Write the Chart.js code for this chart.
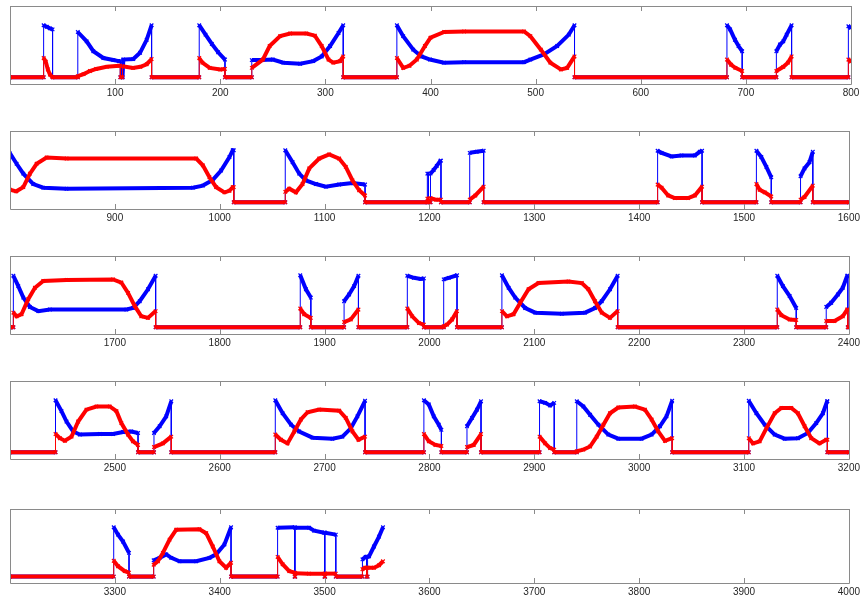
<!DOCTYPE html>
<html>
<head>
<meta charset="utf-8">
<script src="https://cdn.jsdelivr.net/npm/chart.js@4/dist/chart.umd.min.js"></script>
<style>
body{margin:0;background:#fff;width:863px;height:597px;position:relative;overflow:hidden}
canvas{position:absolute;left:0}
</style>
</head>
<body>
<canvas id="p0"></canvas>
<canvas id="p1"></canvas>
<canvas id="p2"></canvas>
<canvas id="p3"></canvas>
<canvas id="p4"></canvas>
<script>
/* DATA: one window of 800 samples per row, [x, y] */
let rowStarts=[0,800,1600,2400,3200]
let rowSpan=800
let tickStep=100

let red1=[[0,0],[32,0],[32,0.37],[34,0.3],[36,0.15],[38,0.05],[40.5,0],
[64.5,0],[64.5,0.02],[70,0.06],[76,0.12],[82,0.16],[92,0.2],[104,0.22],[105,0.22],[105,0],[107,0],[107,0.21],[117,0.18],[124,0.2],[130,0.25],[134.7,0.35],[134.7,0],
[180,0],[180,0.37],[183,0.28],[190,0.18],[200,0.15],[204.5,0.16],[204.5,0],
[230,0],[230,0.18],[240.5,0.34],[247,0.6],[257,0.79],[266.5,0.84],[282,0.84],[290,0.8],[296.5,0.6],[303,0.34],[307.5,0.28],[314,0.31],[317,0.4],[317,0],
[368,0],[368,0.37],[374,0.18],[380,0.22],[387,0.34],[394.7,0.6],[400,0.76],[413,0.87],[432,0.88],[489,0.88],[495,0.79],[505,0.53],[514,0.28],[524,0.15],[530,0.18],[537,0.4],[537,0],
[682,0],[682,0.34],[686,0.24],[690,0.18],[696.5,0.12],[696.5,0],
[729,0],[729,0.12],[735.6,0.2],[740,0.28],[743.5,0.4],[743.5,0],
[797.5,0],[797.5,0.34],[800,0.3]]
let blue1=[[0,0],[32,0],[32,1.0],[35,0.97],[38,0.94],[40.5,0.92],[40.5,0],
[64.5,0],[64.5,0.87],[72.9,0.69],[79.3,0.5],[88.8,0.37],[98.3,0.33],[103.4,0.31],[105,0.31],[105,0],[107,0],[107.8,0.34],[117.3,0.35],[123.7,0.47],[130,0.72],[134.7,1.0],[134.7,0],
[180,0],[180,1.0],[186,0.82],[192,0.64],[198,0.48],[204.5,0.34],[204.5,0],
[230,0],[230,0.33],[240,0.33],[250,0.34],[260,0.28],[276,0.26],[288.5,0.31],[296.5,0.4],[304.5,0.6],[312.5,0.85],[317,1.0],[317,0],
[368,0],[368,1.0],[374,0.79],[383.6,0.53],[391.5,0.4],[399.5,0.34],[412.7,0.28],[432,0.29],[489,0.29],[495,0.34],[507.8,0.44],[520.5,0.6],[531.6,0.82],[537,1.0],[537,0],
[682,0],[682,1.0],[685,0.92],[689.6,0.72],[693,0.6],[696.5,0.5],[696.5,0],
[729,0],[729,0.5],[732.5,0.63],[735.6,0.69],[738.8,0.82],[743.5,1.0],[743.5,0],
[797.5,0],[797.5,0.98],[800,0.95]]

let red2=[[800,0.24],[806,0.21],[812.7,0.29],[819,0.55],[825.4,0.74],[834.9,0.86],[854,0.84],[977.6,0.84],[983.9,0.71],[990.2,0.48],[996.6,0.29],[1004.5,0.19],[1009.3,0.22],[1012.4,0.29],[1013.4,0.29],[1013.4,0],
[1062.5,0],[1062.5,0.2],[1066.3,0.26],[1072.7,0.19],[1079,0.35],[1085.4,0.65],[1094.9,0.84],[1104.4,0.92],[1113.9,0.84],[1120.2,0.68],[1126.6,0.42],[1133,0.23],[1138.6,0.13],[1138.6,0],
[1198,0],[1198,0.07],[1199,0.07],[1199,0],[1201,0],[1201,0.08],[1206,0.05],[1211,0.05],[1211,0],
[1238.4,0],[1238.4,0.05],[1243.8,0.13],[1251.7,0.3],[1251.7,0],
[1417.6,0],[1417.6,0.34],[1421.4,0.28],[1427.7,0.13],[1434,0.08],[1446.7,0.08],[1453.1,0.13],[1460,0.3],[1460,0],
[1511.8,0],[1511.8,0.35],[1514.9,0.24],[1519.7,0.19],[1526,0.11],[1526,0],
[1553.9,0],[1553.9,0.05],[1557.7,0.1],[1565.6,0.32],[1565.6,0],
[1600,0]]
let blue2=[[800,0.94],[806.3,0.74],[812.7,0.55],[822.2,0.35],[831.7,0.28],[853.9,0.26],[974.4,0.28],[983.9,0.32],[993.4,0.43],[1001.3,0.61],[1009.3,0.87],[1012.4,1.0],[1013.4,1.0],[1013.4,0],
[1062.5,0],[1062.5,1.0],[1069.5,0.77],[1075.8,0.55],[1082.2,0.42],[1091.7,0.35],[1101.2,0.3],[1113.9,0.34],[1126.6,0.37],[1138.6,0.34],[1138.6,0],
[1198,0],[1198,0.55],[1199,0.55],[1199,0],[1201,0],[1201,0.55],[1204,0.62],[1207,0.7],[1210.5,0.8],[1211,0.8],[1211,0],
[1238.4,0],[1238.4,0.95],[1245,0.97],[1251.7,0.99],[1251.7,0],
[1417.6,0],[1417.6,0.99],[1421.4,0.95],[1430.9,0.88],[1440.4,0.9],[1453.1,0.9],[1457.8,0.97],[1460,0.99],[1460,0],
[1511.8,0],[1511.8,0.99],[1516.5,0.87],[1521.3,0.68],[1526,0.48],[1526,0],
[1553.9,0],[1553.9,0.5],[1557.7,0.65],[1562.4,0.77],[1565.6,0.97],[1565.6,0],
[1600,0]]

let red3=[[1600,0],[1603.2,0],[1603.2,0.28],[1606.3,0.21],[1611,0.25],[1617.4,0.54],[1623.8,0.76],[1631.7,0.89],[1653.9,0.91],[1698.3,0.92],[1706.2,0.86],[1712.6,0.66],[1718.9,0.41],[1725.2,0.21],[1731.6,0.18],[1738.9,0.31],[1738.9,0],
[1876.8,0],[1876.8,0.36],[1880.6,0.25],[1886.9,0.18],[1886.9,0],
[1918.6,0],[1918.6,0.1],[1925,0.15],[1932.3,0.34],[1932.3,0],
[1978.9,0],[1978.9,0.36],[1983.6,0.21],[1990,0.08],[1994.7,0.05],[1994.7,0],
[2013.6,0],[2013.6,0.02],[2016.8,0.05],[2021.6,0.15],[2026.3,0.31],[2026.3,0],
[2069.1,0],[2069.1,0.31],[2073.9,0.21],[2080.2,0.25],[2086.6,0.47],[2094.5,0.73],[2104,0.85],[2132.6,0.88],[2145.3,0.85],[2151.6,0.73],[2157.9,0.5],[2164.3,0.28],[2172.2,0.18],[2179.5,0.31],[2179.5,0],
[2331.7,0],[2331.7,0.34],[2335.6,0.23],[2343.5,0.15],[2349.8,0.14],[2349.8,0],
[2378.4,0],[2378.4,0.12],[2386.3,0.12],[2394.2,0.21],[2398.4,0.34],[2399,0.34],[2399,0],[2400,0]]
let blue3=[[1600,0],[1603.2,0],[1603.2,0.99],[1607.9,0.79],[1612.7,0.57],[1619,0.39],[1627,0.31],[1638,0.34],[1711,0.34],[1717.3,0.37],[1723.7,0.5],[1731.6,0.73],[1738.9,0.99],[1738.9,0],
[1876.8,0],[1876.8,1.0],[1882.2,0.73],[1886.9,0.57],[1886.9,0],
[1918.6,0],[1918.6,0.5],[1923.4,0.63],[1928.2,0.79],[1932.3,0.99],[1932.3,0],
[1978.9,0],[1978.9,0.99],[1985.2,0.95],[1991.6,0.93],[1994.7,0.94],[1994.7,0],
[2013.6,0],[2013.6,0.92],[2018.4,0.95],[2026.3,1.0],[2026.3,0],
[2069.1,0],[2069.1,1.0],[2075.5,0.76],[2081.8,0.57],[2091.3,0.37],[2100.9,0.28],[2126.2,0.26],[2148.4,0.28],[2157.9,0.37],[2164.3,0.5],[2172.2,0.73],[2179.5,0.99],[2179.5,0],
[2331.7,0],[2331.7,0.99],[2337.1,0.79],[2343.5,0.6],[2349.8,0.37],[2349.8,0],
[2378.4,0],[2378.4,0.39],[2383.1,0.47],[2389.5,0.63],[2394.2,0.76],[2398.4,0.99],[2399,0.99],[2399,0],[2400,0]]

let red4=[[2400,0],[2443.4,0],[2443.4,0.35],[2447.6,0.27],[2452.3,0.22],[2458.7,0.3],[2465,0.59],[2472.9,0.82],[2482.4,0.88],[2495.1,0.88],[2501.5,0.79],[2506.2,0.56],[2512.6,0.34],[2517.3,0.21],[2522.1,0.14],[2522.1,0],
[2537.3,0],[2537.3,0.1],[2545.8,0.17],[2553.8,0.3],[2553.8,0],
[2653,0],[2653,0.34],[2658.4,0.24],[2664.7,0.17],[2671.1,0.4],[2677.4,0.63],[2683.8,0.77],[2694.9,0.82],[2714,0.8],[2720.2,0.66],[2726.6,0.4],[2732.3,0.24],[2738.6,0.3],[2738.6,0],
[2794.7,0],[2794.7,0.35],[2799.4,0.21],[2805.7,0.14],[2811.4,0.12],[2811.4,0],
[2835.8,0],[2835.8,0.1],[2842.2,0.14],[2849.2,0.35],[2849.2,0],
[2905,0],[2905,0.3],[2910.4,0.17],[2915.1,0.08],[2919,0.05],[2919,0],
[2940.5,0],[2940.5,0.02],[2946.8,0.05],[2953.2,0.11],[2959.5,0.3],[2965.9,0.53],[2972.2,0.75],[2980.1,0.86],[2996,0.88],[3005.5,0.82],[3011.9,0.63],[3018.2,0.4],[3024.6,0.22],[3031.5,0.27],[3031.5,0],
[3104.5,0],[3104.5,0.27],[3108.6,0.17],[3114.9,0.21],[3121.3,0.46],[3129.2,0.75],[3135.6,0.85],[3145.1,0.85],[3151.4,0.75],[3157.8,0.5],[3164.1,0.27],[3172,0.17],[3178.4,0.24],[3179.5,0.24],[3179.5,0],
[3200,0]]
let blue4=[[2400,0],[2443.4,0],[2443.4,1.0],[2449.1,0.79],[2453.9,0.59],[2460.2,0.4],[2466.6,0.34],[2485.6,0.35],[2498.3,0.35],[2507.8,0.39],[2515.7,0.4],[2522.1,0.37],[2522.1,0],
[2537.3,0],[2537.3,0.37],[2542.7,0.5],[2549,0.69],[2553.8,0.98],[2553.8,0],
[2653,0],[2653,1.0],[2660,0.75],[2668,0.53],[2675.8,0.4],[2688.5,0.28],[2707.5,0.26],[2717,0.3],[2725,0.46],[2731.3,0.69],[2738.6,0.99],[2738.6,0],
[2794.7,0],[2794.7,1.0],[2799.4,0.92],[2804.1,0.69],[2808.9,0.53],[2811.4,0.43],[2811.4,0],
[2835.8,0],[2835.8,0.5],[2840.6,0.66],[2845.4,0.82],[2849.2,0.98],[2849.2,0],
[2905,0],[2905,0.98],[2910.4,0.95],[2915.1,0.9],[2919,0.95],[2919,0],
[2940.5,0],[2940.5,0.98],[2946.8,0.88],[2953.2,0.72],[2961.1,0.53],[2970.6,0.34],[2980.1,0.26],[3002.3,0.26],[3011.9,0.34],[3019.8,0.5],[3026.1,0.69],[3031.5,0.99],[3031.5,0],
[3104.5,0],[3104.5,0.99],[3111.8,0.75],[3119.7,0.53],[3129.2,0.34],[3138.7,0.26],[3151.4,0.27],[3160.9,0.37],[3168.9,0.56],[3175.2,0.75],[3179.3,0.98],[3179.5,0.98],[3179.5,0],
[3200,0]]

let red5=[[3200,0],[3298.9,0],[3298.9,0.32],[3303,0.21],[3309.4,0.11],[3313.5,0.08],[3313.5,0],
[3337,0],[3337,0.24],[3341.1,0.31],[3345.8,0.48],[3352.2,0.75],[3358.5,0.95],[3380.7,0.96],[3387.1,0.88],[3393.4,0.61],[3399.7,0.31],[3406.1,0.18],[3410.8,0.28],[3410.8,0],
[3455.2,0],[3455.2,0.4],[3460,0.25],[3466.3,0.11],[3471.5,0.08],[3471.5,0],[3472,0],[3472,0.07],[3485,0.06],[3500,0.06],[3500,0],[3500.5,0],[3500.5,0.06],[3510.7,0.06],[3510.7,0],
[3536.1,0],[3536.1,0.15],[3538.6,0.18],[3540,0.18],[3540,0],[3541,0],[3541,0.18],[3547.1,0.18],[3551.9,0.23],[3555.7,0.31]]
let blue5=[[3200,0],[3298.9,0],[3298.9,1.0],[3303,0.85],[3307.8,0.71],[3313.5,0.48],[3313.5,0],
[3337,0],[3337,0.33],[3342.7,0.38],[3349,0.45],[3353.8,0.38],[3361.7,0.31],[3377.6,0.31],[3390.2,0.38],[3396.6,0.45],[3404.5,0.65],[3410.8,1.0],[3410.8,0],
[3455.2,0],[3455.2,0.99],[3471.5,1.0],[3471.5,0],[3472,0],[3472,0.99],[3485.3,0.99],[3490.1,0.93],[3499.6,0.89],[3500,0.89],[3500,0],[3500.5,0],[3500.5,0.89],[3510.7,0.85],[3510.7,0],
[3536.1,0],[3536.1,0.35],[3539.2,0.4],[3540,0.4],[3540,0],[3541,0],[3541,0.4],[3542.4,0.41],[3547.1,0.61],[3551.9,0.81],[3555.7,1.0]]

let redRows=[red1,red2,red3,red4,red5]
let blueRows=[blue1,blue2,blue3,blue4,blue5]

/* layout of the five axes boxes (page px) */
let boxTop=[6,131,256,381,509]
let boxBottom=[84,209,334,459,583]
let labelRoom=16

/* box round the axes + inward ticks, like the original */
const boxPlugin={
id:'box',
afterDraw(chart){
let a=chart.chartArea
let c=chart.ctx
let xs=chart.scales.x
c.save()
c.strokeStyle='#8a8a8a'
c.lineWidth=1
c.beginPath()
c.rect(Math.round(a.left)+0.5,Math.round(a.top)+0.5,Math.round(a.width),Math.round(a.height))
xs.ticks.forEach(t=>{
let px=Math.round(xs.getPixelForValue(t.value))+0.5
c.moveTo(px,a.bottom);c.lineTo(px,a.bottom-5)
c.moveTo(px,a.top);c.lineTo(px,a.top+5)
})
c.stroke()
c.restore()
}
}

// vertical jumps are thin, the sampled runs look thick from the dense markers
function segWidth(ctx){
return Math.abs(ctx.p1.parsed.x-ctx.p0.parsed.x)<0.01?1:4
}

function series(data,color){
return{
data:data,
borderColor:color,
backgroundColor:color,
borderWidth:4,
segment:{borderWidth:segWidth},
pointStyle:'crossRot',
pointRadius:2.5,
pointBorderWidth:1.2,
pointBorderColor:color,
tension:0,
fill:false
}
}

rowStarts.forEach((start,i)=>{
let cv=document.getElementById('p'+i)
let h=boxBottom[i]-boxTop[i]
cv.width=863
cv.height=6+h+labelRoom
cv.style.top=(boxTop[i]-6)+'px'
new Chart(cv,{
type:'line',
data:{datasets:[series(redRows[i],'#ff0000'),series(blueRows[i],'#0000ff')]},
options:{
responsive:false,
animation:false,
events:[],
layout:{padding:{left:10,right:12,top:6,bottom:0}},
plugins:{legend:{display:false},tooltip:{enabled:false}},
scales:{
x:{
type:'linear',
min:start,
max:start+rowSpan,
grid:{display:false,drawTicks:false},
border:{display:false},
afterFit:s=>{s.height=labelRoom},
ticks:{
stepSize:tickStep,
autoSkip:false,
maxRotation:0,
padding:3,
color:'#262626',
font:{family:'"Liberation Sans", Arial, sans-serif',size:10},
callback:v=>v===start?'':v
}
},
y:{display:false,min:-0.13,max:1.37}
}
},
plugins:[boxPlugin]
})
})
</script>
</body>
</html>
